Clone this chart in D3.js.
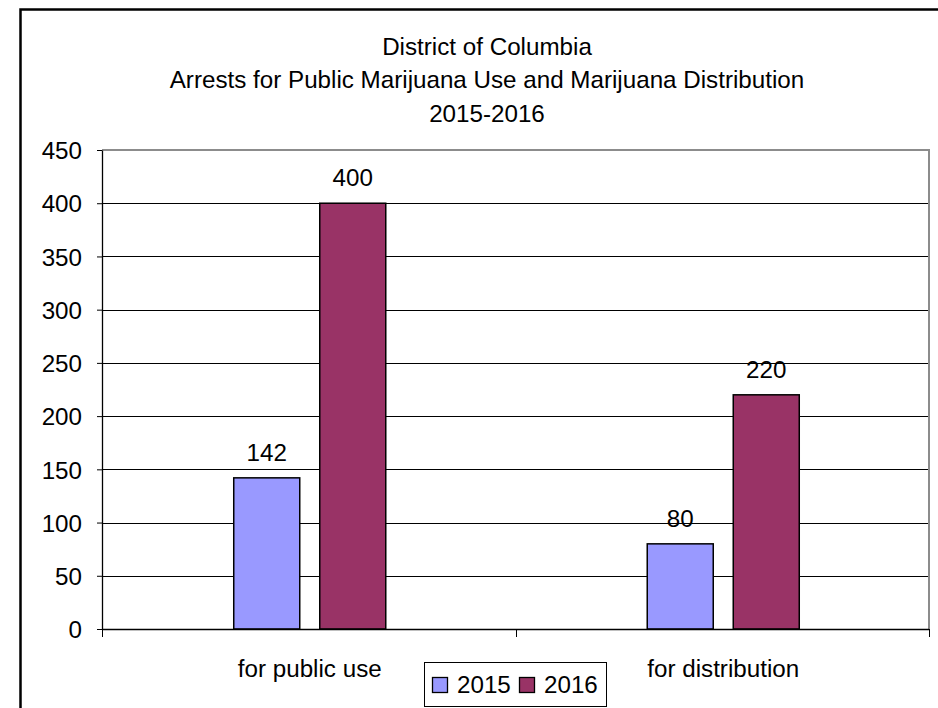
<!DOCTYPE html>
<html>
<head>
<meta charset="utf-8">
<script src="https://cdn.jsdelivr.net/npm/d3@7"></script>
<style>
  body { margin: 0; background: #fff; }
  text { font-family: "Liberation Sans", Arial, sans-serif; fill: #000; }
</style>
</head>
<body>
<div id="chart"></div>
<script>
var titleLines = ["District of Columbia", "Arrests for Public Marijuana Use and Marijuana Distribution", "2015-2016"];
var categories = ["for public use", "for distribution"];
var years = ["2015", "2016"];
var values2015 = [142, 80];
var values2016 = [400, 220];
var yTicks = [0, 50, 100, 150, 200, 250, 300, 350, 400, 450];
var colors = ["#9999ff", "#993366"];

var width = 938, height = 708;
var plot = {left: 102, right: 929, top: 150, bottom: 629};
var fontSize = '24.2px';

var svg = d3.select('#chart').append('svg')
    .attr('width', width)
    .attr('height', height);

svg.append('rect').attr('width', width).attr('height', height).attr('fill', '#fff');

// outer frame (right and bottom run off the picture)
svg.append('rect')
    .attr('x', 20.5).attr('y', 9.5)
    .attr('width', 940).attr('height', 720)
    .attr('fill', 'none').attr('stroke', '#000').attr('stroke-width', 2.5);

// title
svg.append('text')
    .attr('text-anchor', 'middle')
    .style('font-size', fontSize)
    .selectAll('tspan').data(titleLines)
    .enter().append('tspan')
    .attr('x', 487)
    .attr('y', function (d, i) { return 55 + i * 33.4; })
    .text(function (d) { return d; });

var yScale = d3.scaleLinear()
    .domain([0, 450])
    .range([plot.bottom, plot.top]);

var x0 = d3.scaleBand()
    .domain(categories)
    .range([plot.left, plot.right]);

// bars 66px wide with 20px gap inside each category
var x1 = d3.scaleBand()
    .domain(years)
    .range([0, x0.bandwidth()])
    .paddingInner(0.2326)
    .paddingOuter(1.52);

// gridlines
svg.append('g').selectAll('line').data(yTicks.filter(function (d) { return d > 0 && d < 450; }))
    .enter().append('line')
    .attr('x1', plot.left).attr('x2', plot.right)
    .attr('y1', function (d) { return Math.round(yScale(d)) + 0.5; })
    .attr('y2', function (d) { return Math.round(yScale(d)) + 0.5; })
    .attr('stroke', '#000').attr('stroke-width', 1);

// plot area border top/right (gray)
svg.append('path')
    .attr('d', 'M' + plot.left + ',' + plot.top + 'H' + plot.right + 'V' + plot.bottom)
    .attr('fill', 'none').attr('stroke', '#8c8c8c').attr('stroke-width', 2);

// bars
var data = categories.map(function (c, i) {
    return {cat: c, vals: [values2015[i], values2016[i]]};
});

var groups = svg.append('g').selectAll('g').data(data)
    .enter().append('g')
    .attr('transform', function (d) { return 'translate(' + (x0(d.cat) + 1) + ',0)'; });

var bars = groups.selectAll('g').data(function (d) {
        return d.vals.map(function (v, j) { return {year: years[j], v: v, j: j}; });
    })
    .enter().append('g');

bars.append('rect')
    .attr('x', function (d) { return x1(d.year); })
    .attr('y', function (d) { return yScale(d.v); })
    .attr('width', x1.bandwidth())
    .attr('height', function (d) { return plot.bottom - yScale(d.v); })
    .attr('fill', function (d) { return colors[d.j]; })
    .attr('stroke', '#000').attr('stroke-width', 1.5);

bars.append('text')
    .attr('x', function (d) { return x1(d.year) + x1.bandwidth() / 2; })
    .attr('y', function (d) { return yScale(d.v) - 17; })
    .attr('text-anchor', 'middle')
    .style('font-size', fontSize)
    .text(function (d) { return d.v; });

// y axis
var yAxis = svg.append('g')
    .attr('transform', 'translate(' + plot.left + ',0)')
    .call(d3.axisLeft(yScale).tickValues(yTicks).tickSize(5).tickSizeOuter(0).tickPadding(15));
yAxis.select('.domain').attr('stroke', '#000').attr('stroke-width', 1.3);
yAxis.selectAll('.tick line').attr('stroke', '#000');
yAxis.selectAll('.tick text')
    .style('font-size', fontSize)
    .attr('dy', '0.36em');
yAxis.attr('font-family', null).attr('font-size', null);

// x axis line and category ticks
svg.append('line')
    .attr('x1', plot.left).attr('x2', plot.right)
    .attr('y1', plot.bottom + 0.5).attr('y2', plot.bottom + 0.5)
    .attr('stroke', '#000').attr('stroke-width', 1.3);

var boundaries = categories.map(function (c) { return x0(c); }).concat([x0.range()[1]]);
svg.append('g').selectAll('line').data(boundaries)
    .enter().append('line')
    .attr('x1', function (d) { return Math.round(d) + 0.5; })
    .attr('x2', function (d) { return Math.round(d) + 0.5; })
    .attr('y1', plot.bottom).attr('y2', plot.bottom + 8)
    .attr('stroke', '#000');

svg.append('g').selectAll('text').data(categories)
    .enter().append('text')
    .attr('x', function (d) { return x0(d) + x0.bandwidth() / 2 + 1; })
    .attr('y', 677)
    .attr('text-anchor', 'middle')
    .style('font-size', fontSize)
    .text(function (d) { return d; });

// legend
var legend = svg.append('g');
legend.append('rect')
    .attr('x', 424.5).attr('y', 662.5).attr('width', 182).attr('height', 44)
    .attr('fill', '#fff').attr('stroke', '#000').attr('stroke-width', 1);

var legendX = [432, 519];
var items = legend.selectAll('g').data(years)
    .enter().append('g')
    .attr('transform', function (d, i) { return 'translate(' + legendX[i] + ',0)'; });
items.append('rect')
    .attr('x', 0.5).attr('y', 677.5).attr('width', 15).attr('height', 15)
    .attr('fill', function (d, i) { return colors[i]; })
    .attr('stroke', '#000').attr('stroke-width', 1.3);
items.append('text')
    .attr('x', 25).attr('y', 693)
    .style('font-size', fontSize)
    .text(function (d) { return d; });
</script>
</body>
</html>
